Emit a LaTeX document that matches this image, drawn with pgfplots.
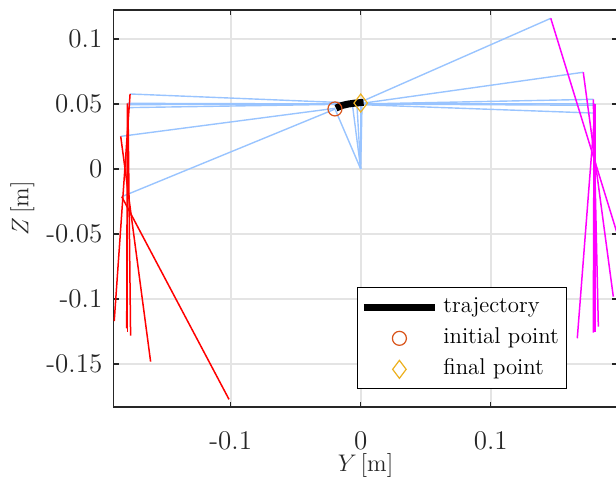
\documentclass[border=0pt]{standalone}
\usepackage{pgfplots}
\pgfplotsset{compat=1.18}
\definecolor{lblue}{RGB}{153,196,255}
\definecolor{initc}{RGB}{217,83,25}
\definecolor{finc}{RGB}{237,177,32}
\definecolor{axc}{RGB}{38,38,38}
\definecolor{gridc}{RGB}{228,228,228}
\definecolor{pred}{RGB}{255,0,0}
\definecolor{pmag}{RGB}{255,0,255}
\pgfplotsset{
  bl/.style={lblue, line width=0.7pt, forget plot},
  rd/.style={pred, line width=0.75pt, forget plot},
  mg/.style={pmag, line width=0.75pt, forget plot},
  legline/.style={legend image code/.code={\draw[##1] (0pt,0pt) -- (35.5pt,0pt);}},
  legmark/.style={legend image code/.code={\draw[##1] plot coordinates {(17.75pt,0pt)};}},
}
\begin{document}
\begin{tikzpicture}
\begin{axis}[
  x=650pt, y=650pt,
  xmin=-0.190, xmax=0.1975, ymin=-0.183, ymax=0.1223,
  axis line style={axc, line width=0.6pt},
  tick style={axc, line width=0.6pt},
  tick align=inside, major tick length=2.5pt,
  xtick={-0.1,0,0.1}, xticklabels={-0.1,0,0.1},
  ytick={-0.15,-0.1,-0.05,0,0.05,0.1}, yticklabels={-0.15,-0.1,-0.05,0,0.05,0.1},
  ticklabel style={font=\fontsize{13.5}{16}\selectfont, text=axc},
  xticklabel style={inner sep=1pt, yshift=-11pt},
  yticklabel style={xshift=-2.2pt},
  grid=major, major grid style={gridc, line width=0.8pt},
  xlabel={$Y\,[\mathrm{m}]$}, ylabel={$Z\,[\mathrm{m}]$},
  label style={font=\fontsize{12.5}{15}\selectfont, text=axc, inner sep=0pt},
  xlabel style={at={(axis description cs:0.5,-0.1465)}, anchor=center},
  ylabel style={at={(axis description cs:-0.1815,0.5)}, anchor=center},
  legend style={at={(axis description cs:0.483,0.301)}, anchor=north west,
    font=\fontsize{11.4}{13}\selectfont, draw=black, fill=white,
    inner xsep=1.5pt, inner ysep=2pt,
    nodes={inner xsep=2.5pt, inner ysep=2.75pt, text height=7.5pt, text depth=2.5pt},
    /tikz/every odd column/.append style={column sep=0pt}},
  legend cell align=left,
]
\addlegendimage{black, line width=3.5pt, legline}
\addlegendentry{trajectory}
\addlegendimage{initc, line width=0.6pt, only marks, mark=o, mark size=3.5pt, legmark}
\addlegendentry{initial point}
\addlegendimage{finc, line width=0.6pt, only marks, mark=diamond, mark size=4.5pt, legmark}
\addlegendentry{final point}

% body to left knees
\addplot[bl] coordinates {(0.000,0.0505) (-0.1774,0.0577)};
\addplot[bl] coordinates {(0.000,0.0500) (-0.1795,0.0505)};
\addplot[bl] coordinates {(0.000,0.0500) (-0.1795,0.0495)};
\addplot[bl] coordinates {(0.000,0.0500) (-0.1790,0.0472)};
\addplot[bl] coordinates {(-0.0195,0.0467) (-0.1846,0.0251)};
\addplot[bl] coordinates {(-0.0195,0.0462) (-0.1838,-0.0213)};
% body to right knees
\addplot[bl] coordinates {(0.001,0.0520) (0.1462,0.1159)};
\addplot[bl] coordinates {(0.001,0.0505) (0.1712,0.0744)};
\addplot[bl] coordinates {(0.000,0.0500) (0.1789,0.0536)};
\addplot[bl] coordinates {(0.000,0.0500) (0.1802,0.0502)};
\addplot[bl] coordinates {(0.000,0.0500) (0.1795,0.0490)};
\addplot[bl] coordinates {(0.000,0.0495) (0.1800,0.0430)};
% body to centre
\addplot[bl] coordinates {(-0.0195,0.0455) (0,0)};
\addplot[bl] coordinates {(-0.0065,0.0505) (0,0)};
\addplot[bl] coordinates {(-0.0030,0.0510) (0,0)};
\addplot[bl] coordinates {(0.0000,0.0510) (0,0)};
\addplot[bl] coordinates {(0.0010,0.0500) (0,0)};
% left lower links
\addplot[rd] coordinates {(-0.1774,0.0577) (-0.1896,-0.1170)};
\addplot[rd] coordinates {(-0.1795,0.0505) (-0.1800,-0.1225)};
\addplot[rd] coordinates {(-0.1795,0.0495) (-0.1795,-0.1252)};
\addplot[rd] coordinates {(-0.1790,0.0472) (-0.1770,-0.1282)};
\addplot[rd] coordinates {(-0.1846,0.0251) (-0.1616,-0.1482)};
\addplot[rd] coordinates {(-0.1838,-0.0213) (-0.1013,-0.1772)};
% right lower links
\addplot[mg] coordinates {(0.1462,0.1159) (0.1978,-0.0513)};
\addplot[mg] coordinates {(0.1712,0.0744) (0.1943,-0.0982)};
\addplot[mg] coordinates {(0.1789,0.0536) (0.1828,-0.1213)};
\addplot[mg] coordinates {(0.1802,0.0502) (0.1802,-0.1252)};
\addplot[mg] coordinates {(0.1795,0.0490) (0.1789,-0.1259)};
\addplot[mg] coordinates {(0.1800,0.0430) (0.1666,-0.1302)};
% trajectory
\addplot[black, line width=3.5pt, forget plot] coordinates {
(-0.0190,0.0468) (-0.0150,0.0487) (-0.0100,0.0499) (-0.0050,0.0506) (0.0000,0.0511) (0.0022,0.0513)};
\addplot[initc, line width=0.6pt, only marks, mark=o, mark size=3.5pt, forget plot] coordinates {(-0.0198,0.0462)};
\addplot[finc, line width=0.6pt, only marks, mark=diamond, mark size=4.5pt, forget plot] coordinates {(0.0000,0.0507)};

\coordinate (bbsw) at (axis cs:-0.27746,-0.23846);
\coordinate (bbne) at (axis cs:0.19638,0.13);
\end{axis}
\pgfresetboundingbox
\path[use as bounding box] (bbsw) rectangle (bbne);
\end{tikzpicture}
\end{document}
